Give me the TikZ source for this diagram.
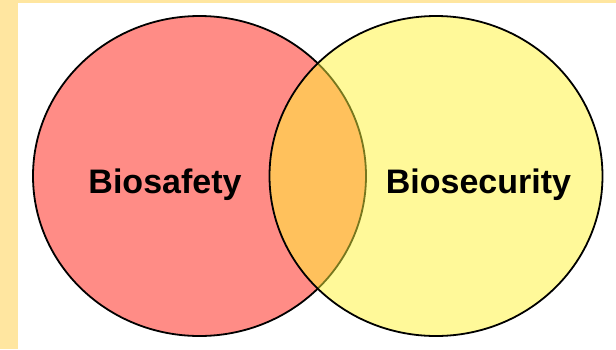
\documentclass[tikz,border=0pt]{standalone}
\usepackage{fontspec}
\setmainfont{Liberation Sans}
\definecolor{cream}{HTML}{FFE6A0}
\definecolor{safered}{HTML}{FF8C86}
\definecolor{secureyellow}{HTML}{FFF999}
\definecolor{overlap}{HTML}{FFC15C}
\definecolor{olive}{HTML}{77771E}
\begin{document}
\begin{tikzpicture}[x=1pt, y=-1pt, line width=1.8pt,
    set/.style = {x radius=166.5pt, y radius=160pt},
    label/.style = {font=\fontsize{34}{40}\selectfont\bfseries, anchor=base}]
    \useasboundingbox (0,0) rectangle (616,349);
    \fill[cream] (0,0) rectangle (616,349);
    \fill[white] (18,2.5) rectangle (616,349);
    \coordinate (safe) at (199.5,176);
    \coordinate (secure) at (436,176);
    \fill[safered] (safe) ellipse [set];
    \draw (safe) ellipse [set];
    \fill[secureyellow] (secure) ellipse [set];
    \begin{scope}
        \clip (safe) ellipse [set];
        \fill[overlap] (secure) ellipse [set];
    \end{scope}
    \begin{scope}
        \clip (secure) ellipse [set];
        \draw[olive] (safe) ellipse [set];
    \end{scope}
    \draw (secure) ellipse [set];
    \node[label] (biosafety) at (165,193) {Biosafety};
    \node[label] (biosecurity) at (478.5,193) {Biosecurity};
\end{tikzpicture}
\end{document}
